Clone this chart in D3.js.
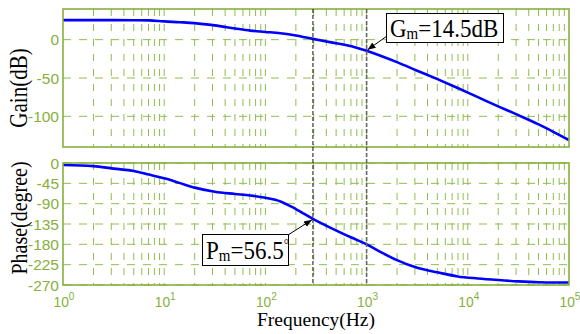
<!DOCTYPE html>
<html>
<head>
<meta charset="utf-8">
<script src="https://cdn.jsdelivr.net/npm/d3@7"></script>
<style>
  html, body { margin: 0; padding: 0; background: #fff; }
  svg { display: block; }
</style>
</head>
<body>
<svg id="chart" width="580" height="334"></svg>
<script>
// Open-loop Bode response: frequency samples (Hz), gain (dB) and phase (deg)
const freqHz = [1, 2, 3.16, 5.01, 7.08, 10, 14.1, 20, 31.6, 50.1, 70.8, 100, 141, 200, 295,
  447, 708, 1000, 1413, 1995, 3162, 5012, 7943, 12589, 19953, 31623, 50119, 70795, 100000];
const gainDb = [25.5, 25.5, 25.5, 25.4, 25.2, 23.8, 22.8, 21.6, 18.6, 14.6, 11.8, 10.1, 8.3, 5.5, 1.0,
  -3.5, -8.6, -14.5, -21.6, -29.3, -40.5, -51.5, -63, -75, -87, -98.5, -110.5, -120.5, -131];
const phaseDeg = [-4.4, -7, -12.5, -17.5, -25.5, -34, -44, -54.5, -63.5, -68.5, -72, -77, -85, -102, -123.5,
  -144, -165, -180, -198.5, -215, -232, -242, -251, -255.5, -259, -262, -264, -264.5, -264.5];

// Axis ticks
const decadeTicks = [1, 10, 100, 1000, 10000, 100000];
const gainTicks = [0, -50, -100];
const phaseTicks = [0, -45, -90, -135, -180, -225, -270];

// Stability margins
const gainCrossHz = 295;    // |G| = 0 dB
const phaseCrossHz = 1000;  // phase = -180 deg
const gainMarginDb = 14.5;
const phaseMarginDeg = 56.5;

const svg = d3.select("#chart");
const green = "#86b03c";
const gridGreen = "#8fbd4c";

const x = d3.scaleLog().domain([1, 1e5]).range([63, 569]);
const yGain = d3.scaleLinear().domain([-140, 40]).range([147, 9]);
const yPhase = d3.scaleLinear().domain([-270, 0]).range([285, 163]);

// Minor + major frequency grid positions
const gridFreqs = [];
for (let e = 0; e < 5; e++) for (let m = 1; m <= 9; m++) gridFreqs.push(m * Math.pow(10, e));
gridFreqs.push(1e5);

function panel(yScale, ticks, values) {
  const g = svg.append("g");
  const [y0, y1] = yScale.range();
  // vertical grid
  g.selectAll("line.vg").data(gridFreqs.filter(f => f > 1 && f < 1e5)).join("line")
    .attr("x1", d => x(d)).attr("x2", d => x(d))
    .attr("y1", y1).attr("y2", y0)
    .attr("stroke", gridGreen).attr("stroke-width", 1)
    .attr("stroke-dasharray", "7,8");
  // horizontal grid
  g.selectAll("line.hg").data(ticks).join("line")
    .attr("x1", x.range()[0]).attr("x2", x.range()[1])
    .attr("y1", d => yScale(d)).attr("y2", d => yScale(d))
    .attr("stroke", gridGreen).attr("stroke-width", 1)
    .attr("stroke-dasharray", "8,8");
  // y tick labels
  g.selectAll("text.yt").data(ticks).join("text")
    .attr("x", 59).attr("y", d => yScale(d))
    .attr("dy", "0.36em")
    .attr("text-anchor", "end")
    .attr("font-family", "Liberation Sans, Arial, sans-serif")
    .attr("font-size", 15.5)
    .attr("fill", green)
    .text(d => d);
  // curve
  const line = d3.line()
    .x((d, i) => x(freqHz[i]))
    .y(d => yScale(d))
    .curve(d3.curveMonotoneX);
  g.append("path").datum(values)
    .attr("d", line)
    .attr("fill", "none")
    .attr("stroke", "#0000ff")
    .attr("stroke-width", 2.6);
  // frame
  g.append("rect")
    .attr("x", x.range()[0]).attr("y", y1)
    .attr("width", x.range()[1] - x.range()[0]).attr("height", y0 - y1)
    .attr("fill", "none").attr("stroke", green).attr("stroke-width", 1.6);
  return g;
}

panel(yGain, gainTicks, gainDb);
panel(yPhase, phaseTicks, phaseDeg);

// x tick labels (10^n)
const xl = svg.append("g")
  .attr("font-family", "Liberation Sans, Arial, sans-serif")
  .attr("fill", green);
decadeTicks.forEach(f => {
  const t = xl.append("text")
    .attr("transform", `translate(${x(f) + 1},307) scale(0.92,1)`)
    .attr("text-anchor", "middle")
    .attr("font-size", 15);
  t.append("tspan").text("10");
  t.append("tspan").attr("font-size", 11).attr("dy", -7).text(Math.round(Math.log10(f)));
});

// margin marker lines
svg.append("line")
  .attr("x1", x(gainCrossHz)).attr("x2", x(gainCrossHz))
  .attr("y1", yGain.range()[1]).attr("y2", yPhase.range()[0])
  .attr("stroke", "#111").attr("stroke-width", 1)
  .attr("stroke-dasharray", "4,2");
svg.append("line")
  .attr("x1", x(phaseCrossHz)).attr("x2", x(phaseCrossHz))
  .attr("y1", yGain.range()[1]).attr("y2", yPhase.range()[0])
  .attr("stroke", "#666").attr("stroke-width", 1.6)
  .attr("stroke-dasharray", "4,2");

// arrow marker
svg.append("defs").append("marker")
  .attr("id", "arrow").attr("viewBox", "0 0 10 10")
  .attr("refX", 10).attr("refY", 5)
  .attr("markerWidth", 8).attr("markerHeight", 8)
  .attr("markerUnits", "userSpaceOnUse")
  .attr("orient", "auto")
  .append("path").attr("d", "M0,1 L10,5 L0,9 Z").attr("fill", "#000");

const serif = "Liberation Serif, Times New Roman, serif";

// Gain margin callout
const gmTip = [x(phaseCrossHz), yGain(-gainMarginDb)];
svg.append("line")
  .attr("x1", 387).attr("y1", 36)
  .attr("x2", gmTip[0] + 1).attr("y2", gmTip[1] - 1)
  .attr("stroke", "#000").attr("stroke-width", 1)
  .attr("marker-end", "url(#arrow)");
svg.append("rect")
  .attr("x", 386.5).attr("y", 13.5).attr("width", 117).attr("height", 29)
  .attr("fill", "#fff").attr("stroke", "#000").attr("stroke-width", 1);
const gmText = svg.append("text")
  .attr("transform", "translate(390,36.5) scale(1,1.1)")
  .attr("font-family", serif).attr("font-size", 23).attr("fill", "#000");
gmText.append("tspan").text("G");
gmText.append("tspan").attr("font-size", 15).attr("dy", 2).text("m");
gmText.append("tspan").attr("dy", -2).text("=" + gainMarginDb + "dB");

// Phase margin callout
const pmTip = [x(gainCrossHz), yPhase(-180 + phaseMarginDeg)];
svg.append("line")
  .attr("x1", 288).attr("y1", 235)
  .attr("x2", pmTip[0] - 1).attr("y2", pmTip[1] + 1)
  .attr("stroke", "#000").attr("stroke-width", 1)
  .attr("marker-end", "url(#arrow)");
svg.append("rect")
  .attr("x", 202.5).attr("y", 234.5).attr("width", 86).attr("height", 31)
  .attr("fill", "#fff").attr("stroke", "#000").attr("stroke-width", 1);
const pmText = svg.append("text")
  .attr("transform", "translate(206,259) scale(1,1.1)")
  .attr("font-family", serif).attr("font-size", 23).attr("fill", "#000");
pmText.append("tspan").text("P");
pmText.append("tspan").attr("font-size", 15).attr("dy", 2).text("m");
pmText.append("tspan").attr("dy", -2).text("=" + phaseMarginDeg);
pmText.append("tspan").attr("font-size", 13).attr("dy", -9).text("°");

// axis titles
svg.append("text")
  .attr("transform", "translate(27,88) rotate(-90) scale(1,1.2)")
  .attr("text-anchor", "middle")
  .attr("font-family", serif).attr("font-size", 21).attr("fill", "#000")
  .text("Gain(dB)");
svg.append("text")
  .attr("transform", "translate(27,218) rotate(-90) scale(1,1.2)")
  .attr("text-anchor", "middle")
  .attr("font-family", serif).attr("font-size", 20).attr("fill", "#000")
  .text("Phase(degree)");
svg.append("text")
  .attr("x", 316).attr("y", 326)
  .attr("text-anchor", "middle")
  .attr("font-family", serif).attr("font-size", 19.5).attr("fill", "#000")
  .text("Frequency(Hz)");
</script>
</body>
</html>
